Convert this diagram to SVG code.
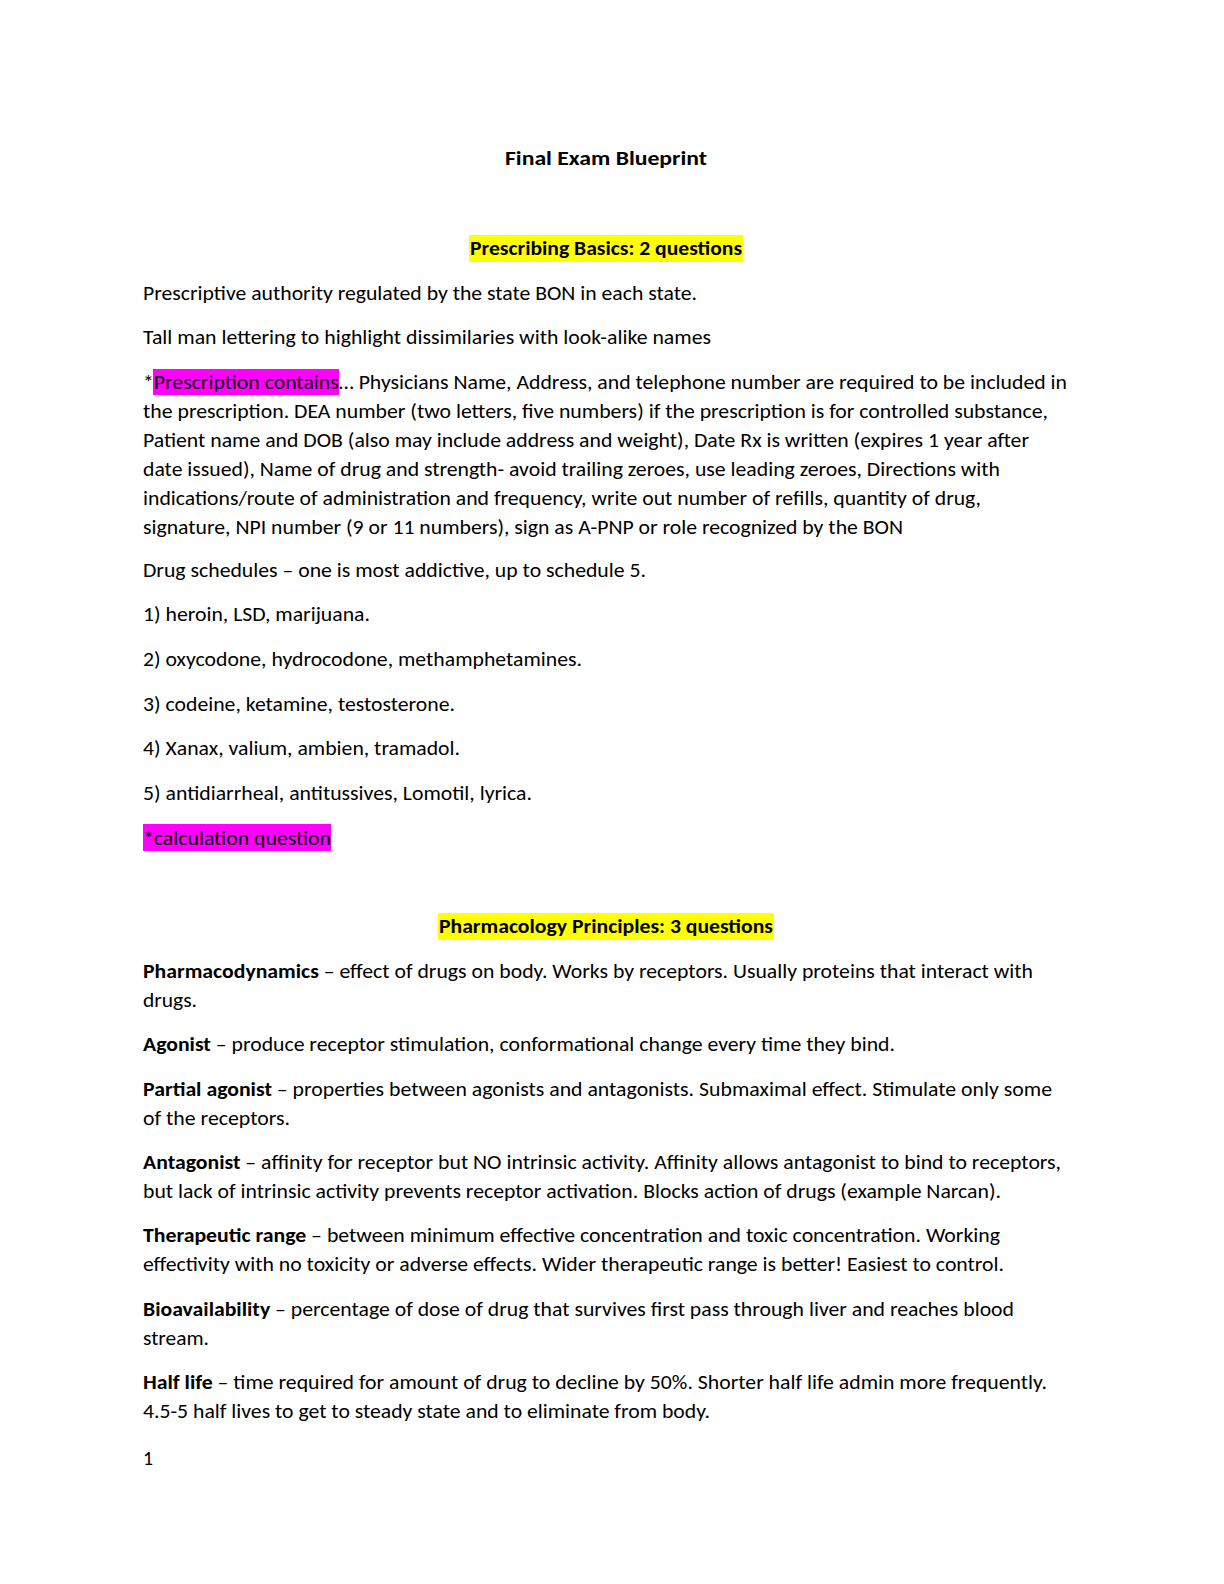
<svg xmlns="http://www.w3.org/2000/svg" width="1224" height="1584" viewBox="0 0 1224 1584">
<style>
text{font-family:Carlito,Lato,"Liberation Sans",sans-serif;font-size:20px;fill:#000}
.b{font-weight:bold}
.c{text-anchor:middle}
</style>
<rect width="1224" height="1584" fill="#fff"/>
<rect x="469" y="235" width="274" height="27" fill="#ffff00"/>
<rect x="438" y="913" width="336" height="27" fill="#ffff00"/>
<rect x="153" y="369" width="186" height="26" fill="#ff00ff"/>
<rect x="143" y="824" width="188" height="27" fill="#ff00ff"/>
<text class="b c" x="606" y="165" textLength="202" lengthAdjust="spacingAndGlyphs">Final Exam Blueprint</text>
<text class="b c" x="606" y="255" textLength="272" lengthAdjust="spacingAndGlyphs">Prescribing Basics: 2 questions</text>
<text x="143" y="300" textLength="554" lengthAdjust="spacingAndGlyphs">Prescriptive authority regulated by the state BON in each state.</text>
<text x="143" y="344" textLength="568" lengthAdjust="spacingAndGlyphs">Tall man lettering to highlight dissimilaries with look-alike names</text>
<text x="143" y="389" textLength="924" lengthAdjust="spacingAndGlyphs">*Prescription contains… Physicians Name, Address, and telephone number are required to be included in</text>
<text x="143" y="418" textLength="905" lengthAdjust="spacingAndGlyphs">the prescription. DEA number (two letters, five numbers) if the prescription is for controlled substance,</text>
<text x="143" y="447" textLength="886" lengthAdjust="spacingAndGlyphs">Patient name and DOB (also may include address and weight), Date Rx is written (expires 1 year after</text>
<text x="143" y="476" textLength="857" lengthAdjust="spacingAndGlyphs">date issued), Name of drug and strength- avoid trailing zeroes, use leading zeroes, Directions with</text>
<text x="143" y="505" textLength="838" lengthAdjust="spacingAndGlyphs">indications/route of administration and frequency, write out number of refills, quantity of drug,</text>
<text x="143" y="534" textLength="760" lengthAdjust="spacingAndGlyphs">signature, NPI number (9 or 11 numbers), sign as A-PNP or role recognized by the BON</text>
<text x="143" y="577" textLength="503" lengthAdjust="spacingAndGlyphs">Drug schedules – one is most addictive, up to schedule 5.</text>
<text x="143" y="621" textLength="227" lengthAdjust="spacingAndGlyphs">1) heroin, LSD, marijuana.</text>
<text x="143" y="666" textLength="439" lengthAdjust="spacingAndGlyphs">2) oxycodone, hydrocodone, methamphetamines.</text>
<text x="143" y="711" textLength="312" lengthAdjust="spacingAndGlyphs">3) codeine, ketamine, testosterone.</text>
<text x="143" y="755" textLength="317" lengthAdjust="spacingAndGlyphs">4) Xanax, valium, ambien, tramadol.</text>
<text x="143" y="800" textLength="389" lengthAdjust="spacingAndGlyphs">5) antidiarrheal, antitussives, Lomotil, lyrica.</text>
<text x="143" y="845" textLength="188" lengthAdjust="spacingAndGlyphs">*calculation question</text>
<text class="b c" x="606" y="933" textLength="334" lengthAdjust="spacingAndGlyphs">Pharmacology Principles: 3 questions</text>
<text x="143" y="978" textLength="890" lengthAdjust="spacingAndGlyphs"><tspan class="b">Pharmacodynamics</tspan> – effect of drugs on body. Works by receptors. Usually proteins that interact with</text>
<text x="143" y="1007" textLength="54" lengthAdjust="spacingAndGlyphs">drugs.</text>
<text x="143" y="1051" textLength="752" lengthAdjust="spacingAndGlyphs"><tspan class="b">Agonist</tspan> – produce receptor stimulation, conformational change every time they bind.</text>
<text x="143" y="1096" textLength="909" lengthAdjust="spacingAndGlyphs"><tspan class="b">Partial agonist</tspan> – properties between agonists and antagonists. Submaximal effect. Stimulate only some</text>
<text x="143" y="1125" textLength="147" lengthAdjust="spacingAndGlyphs">of the receptors.</text>
<text x="143" y="1169" textLength="918" lengthAdjust="spacingAndGlyphs"><tspan class="b">Antagonist</tspan> – affinity for receptor but NO intrinsic activity. Affinity allows antagonist to bind to receptors,</text>
<text x="143" y="1198" textLength="858" lengthAdjust="spacingAndGlyphs">but lack of intrinsic activity prevents receptor activation. Blocks action of drugs (example Narcan).</text>
<text x="143" y="1242" textLength="857" lengthAdjust="spacingAndGlyphs"><tspan class="b">Therapeutic range</tspan> – between minimum effective concentration and toxic concentration. Working</text>
<text x="143" y="1271" textLength="861" lengthAdjust="spacingAndGlyphs">effectivity with no toxicity or adverse effects. Wider therapeutic range is better! Easiest to control.</text>
<text x="143" y="1316" textLength="871" lengthAdjust="spacingAndGlyphs"><tspan class="b">Bioavailability</tspan> – percentage of dose of drug that survives first pass through liver and reaches blood</text>
<text x="143" y="1345" textLength="66" lengthAdjust="spacingAndGlyphs">stream.</text>
<text x="143" y="1389" textLength="904" lengthAdjust="spacingAndGlyphs"><tspan class="b">Half life</tspan> – time required for amount of drug to decline by 50%. Shorter half life admin more frequently.</text>
<text x="143" y="1418" textLength="567" lengthAdjust="spacingAndGlyphs">4.5-5 half lives to get to steady state and to eliminate from body.</text>
<text x="143" y="1465">1</text>
</svg>
